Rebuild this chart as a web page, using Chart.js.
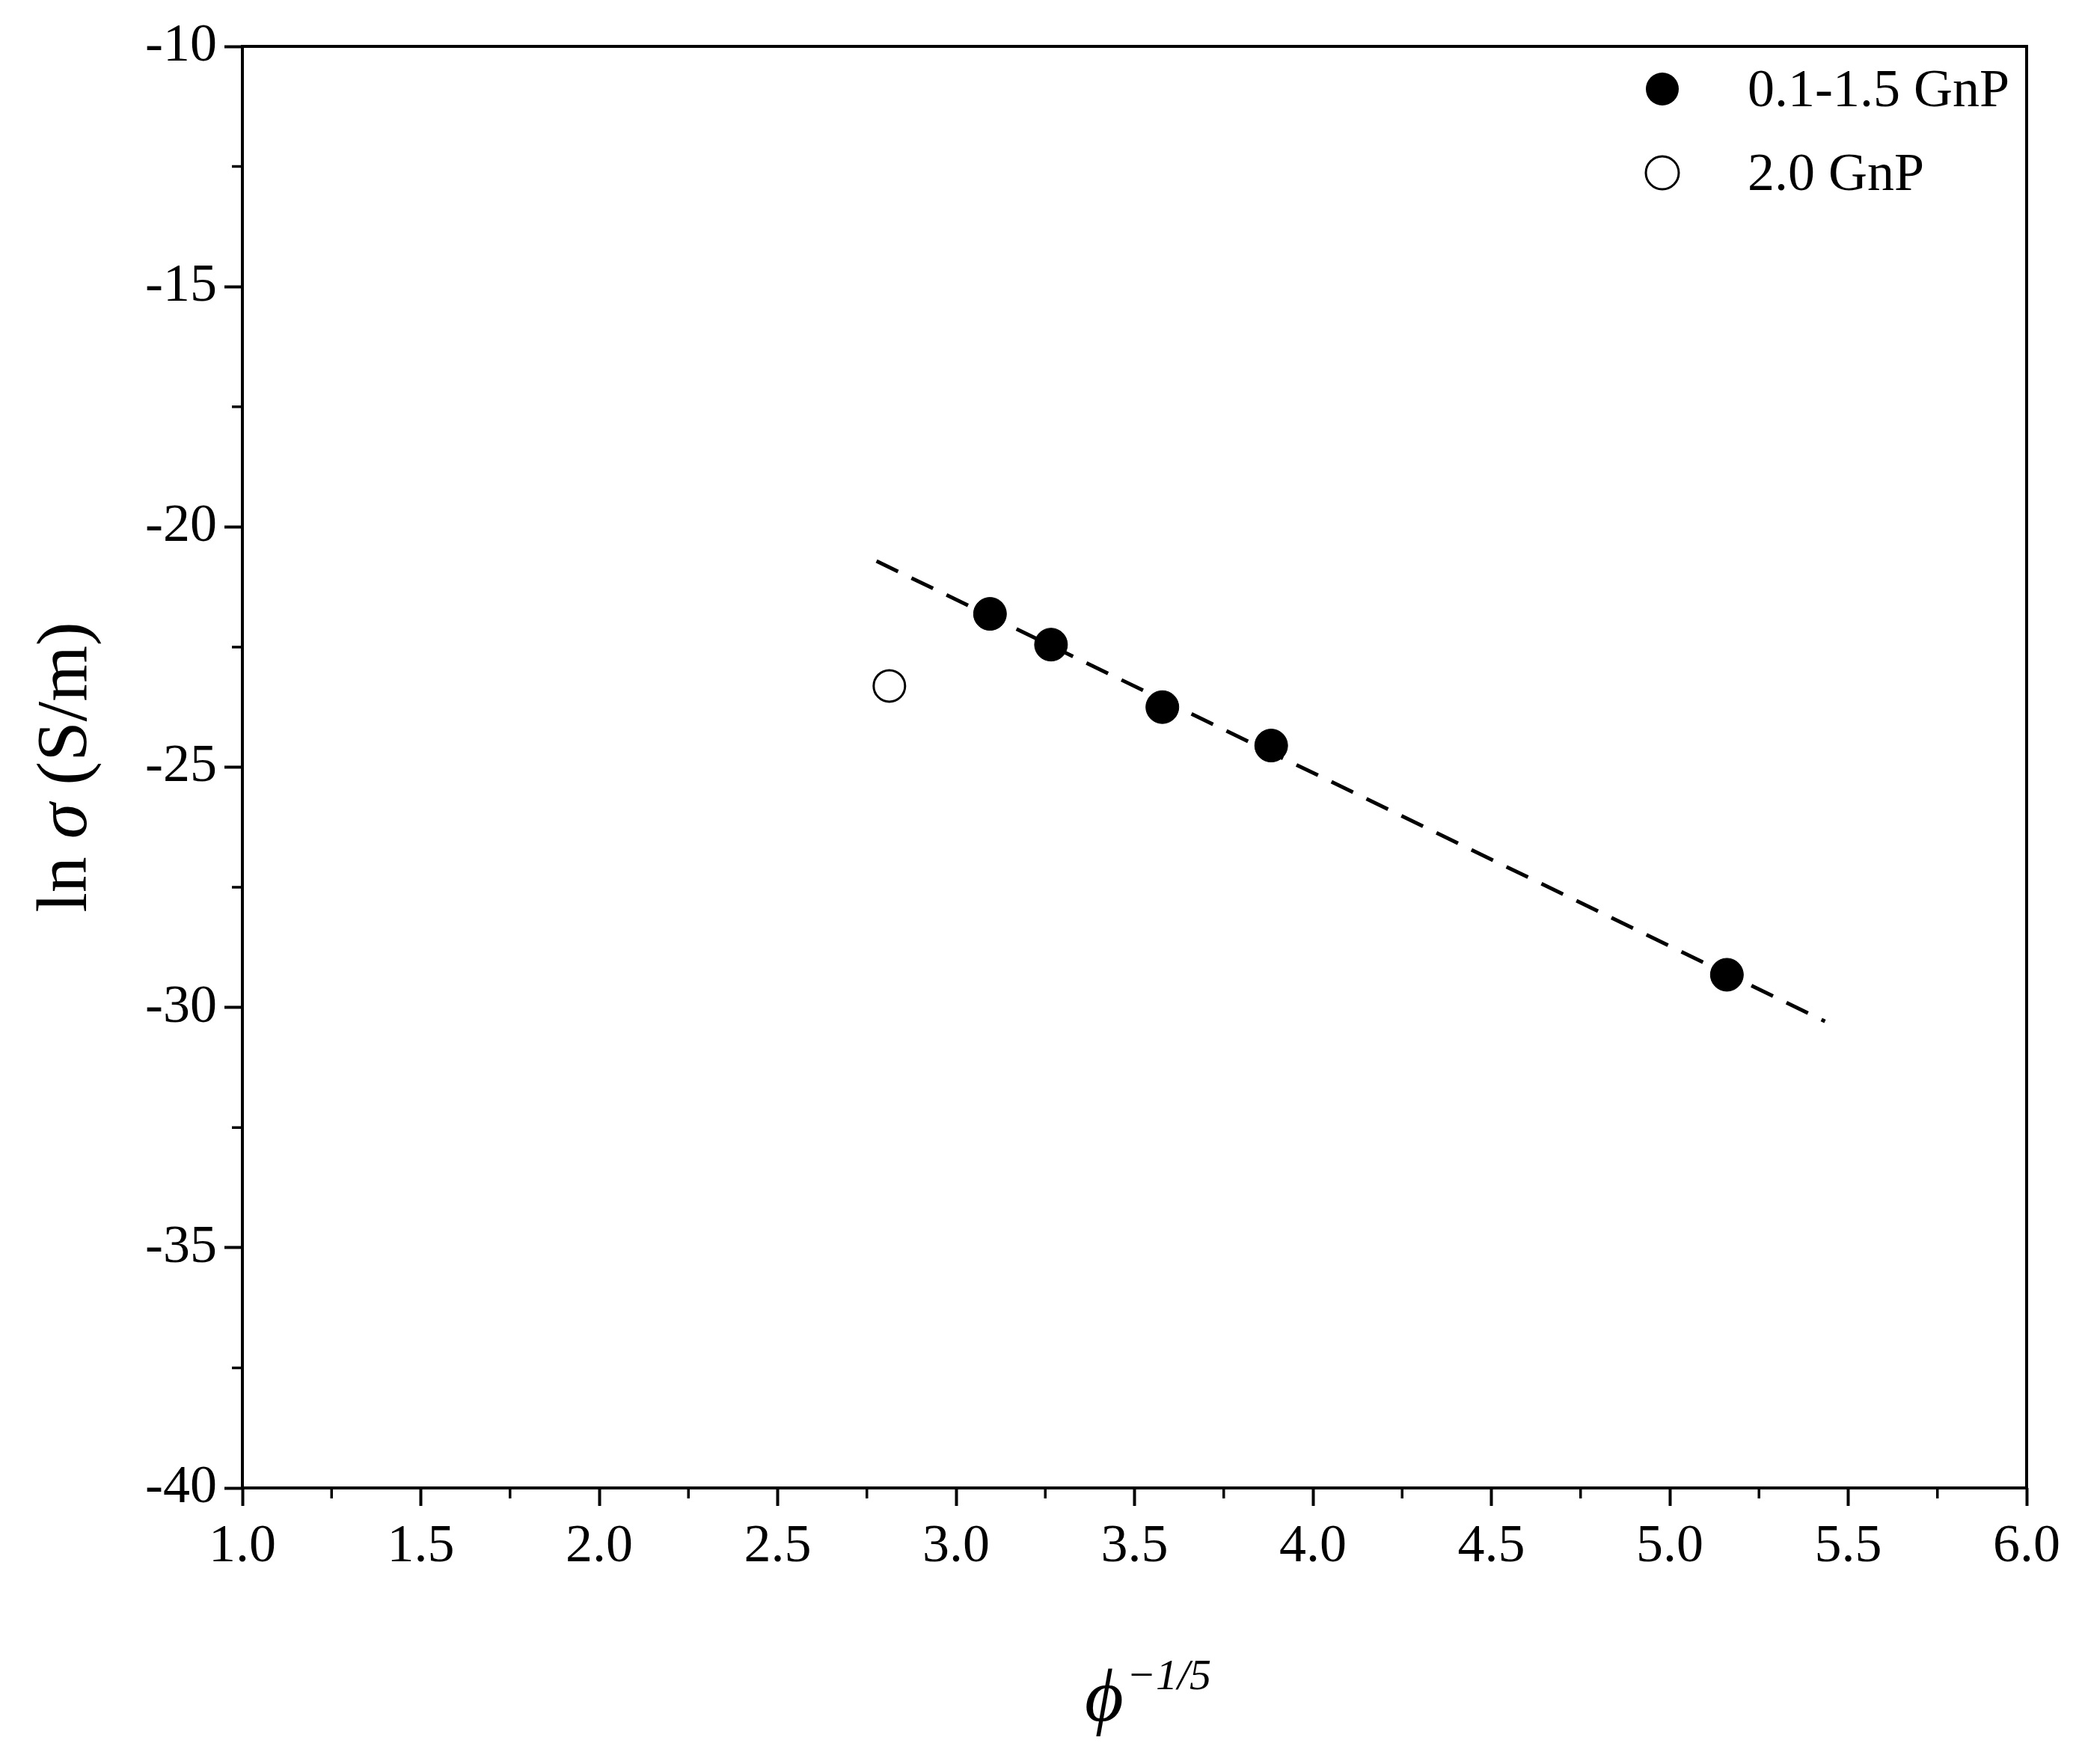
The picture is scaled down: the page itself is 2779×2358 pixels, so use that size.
<!DOCTYPE html>
<html>
<head>
<meta charset="utf-8">
<script src="https://cdn.jsdelivr.net/npm/chart.js@4"></script>
<style>
  html, body { margin: 0; padding: 0; background: #fff; }
  #wrap { width: 2779px; height: 2358px; }
</style>
</head>
<body>
<div id="wrap"><canvas id="c" width="2779" height="2358"></canvas></div>
<script>
// data
const filledX = [3.095, 3.266, 3.578, 3.883, 5.16];
const filledY = [-21.81, -22.45, -23.75, -24.55, -29.32];
const openX = [2.813];
const openY = [-23.31];
const fitX = [2.777, 5.435];
const fitY = [-20.71, -30.29];
const legendLabels = ["0.1-1.5 GnP", "2.0 GnP"];

const FONT = "'Liberation Serif', serif";

function pts(xs, ys) {
  return xs.map((x, i) => ({ x: x, y: ys[i] }));
}

// box, minor ticks, axis titles and legend
const decor = {
  id: "decor",
  afterDraw(chart) {
    const { ctx, chartArea: a, scales } = chart;
    ctx.save();
    ctx.strokeStyle = "#000";
    ctx.lineWidth = 4;
    ctx.strokeRect(a.left, a.top, a.right - a.left, a.bottom - a.top);

    // minor ticks
    ctx.lineWidth = 3.5;
    ctx.beginPath();
    for (let v = 1.25; v < 6; v += 0.5) {
      const px = scales.x.getPixelForValue(v);
      ctx.moveTo(px, a.bottom);
      ctx.lineTo(px, a.bottom + 14);
    }
    for (let v = -37.5; v < -10; v += 5) {
      const py = scales.y.getPixelForValue(v);
      ctx.moveTo(a.left, py);
      ctx.lineTo(a.left - 14, py);
    }
    ctx.stroke();

    // y title: ln σ (S/m)
    ctx.fillStyle = "#000";
    ctx.save();
    ctx.translate(90, (a.top + a.bottom) / 2);
    ctx.rotate(-Math.PI / 2);
    ctx.textBaseline = "middle";
    const p1 = "ln ", p2 = "σ", p3 = " (S/m)";
    ctx.font = "96px " + FONT;
    const w1 = ctx.measureText(p1).width, w3 = ctx.measureText(p3).width;
    ctx.font = "italic 96px " + FONT;
    const w2 = ctx.measureText(p2).width;
    let x0 = -(w1 + w2 + w3) / 2;
    ctx.textAlign = "left";
    ctx.font = "96px " + FONT;
    ctx.fillText(p1, x0, 0);
    ctx.font = "italic 96px " + FONT;
    ctx.fillText(p2, x0 + w1, 0);
    ctx.font = "96px " + FONT;
    ctx.fillText(p3, x0 + w1 + w2, 0);
    ctx.restore();

    // x title: ϕ^-1/5
    ctx.textAlign = "left";
    ctx.textBaseline = "alphabetic";
    ctx.font = "italic 100px " + FONT;
    ctx.fillText("ϕ", 1450, 2300);
    const wp = ctx.measureText("ϕ").width;
    ctx.font = "italic 58px " + FONT;
    ctx.fillText("−1/5", 1450 + wp + 4, 2258);

    // legend
    const ly = [119, 231];
    ctx.font = "72px " + FONT;
    ctx.textBaseline = "middle";
    ly.forEach((y, i) => {
      ctx.beginPath();
      ctx.arc(2222, y, 22, 0, Math.PI * 2);
      if (i === 0) { ctx.fillStyle = "#000"; ctx.fill(); }
      else { ctx.fillStyle = "#fff"; ctx.fill(); ctx.lineWidth = 3; ctx.stroke(); }
      ctx.fillStyle = "#000";
      ctx.fillText(legendLabels[i], 2336, y + 4);
    });
    ctx.restore();
  },
};

new Chart(document.getElementById("c").getContext("2d"), {
  type: "scatter",
  data: {
    datasets: [
      {
        label: legendLabels[0],
        data: pts(filledX, filledY),
        pointRadius: 22,
        pointBackgroundColor: "#000",
        pointBorderColor: "#000",
      },
      {
        label: legendLabels[1],
        data: pts(openX, openY),
        pointRadius: 21,
        pointBackgroundColor: "#fff",
        pointBorderColor: "#000",
        pointBorderWidth: 3,
      },
      {
        label: "fit",
        type: "line",
        data: pts(fitX, fitY),
        borderColor: "#000",
        borderWidth: 5,
        borderDash: [32, 20],
        pointRadius: 0,
        fill: false,
      },
    ],
  },
  options: {
    responsive: false,
    animation: false,
    layout: { padding: { top: 62, right: 70, left: 0, bottom: 0 } },
    plugins: { legend: { display: false }, tooltip: { enabled: false } },
    scales: {
      x: {
        type: "linear",
        min: 1,
        max: 6,
        afterFit: (s) => { s.height = 369; },
        ticks: {
          stepSize: 0.5,
          color: "#000",
          padding: 12,
          font: { family: FONT, size: 72 },
          callback: (v) => v.toFixed(1),
        },
        grid: { drawOnChartArea: false, tickLength: 24, tickWidth: 4, color: "#000" },
        border: { display: false },
      },
      y: {
        min: -40,
        max: -10,
        afterFit: (s) => { s.width = 324; },
        ticks: {
          stepSize: 5,
          color: "#000",
          padding: 10,
          font: { family: FONT, size: 72 },
        },
        grid: { drawOnChartArea: false, tickLength: 24, tickWidth: 4, color: "#000" },
        border: { display: false },
      },
    },
  },
  plugins: [decor],
});
</script>
</body>
</html>
